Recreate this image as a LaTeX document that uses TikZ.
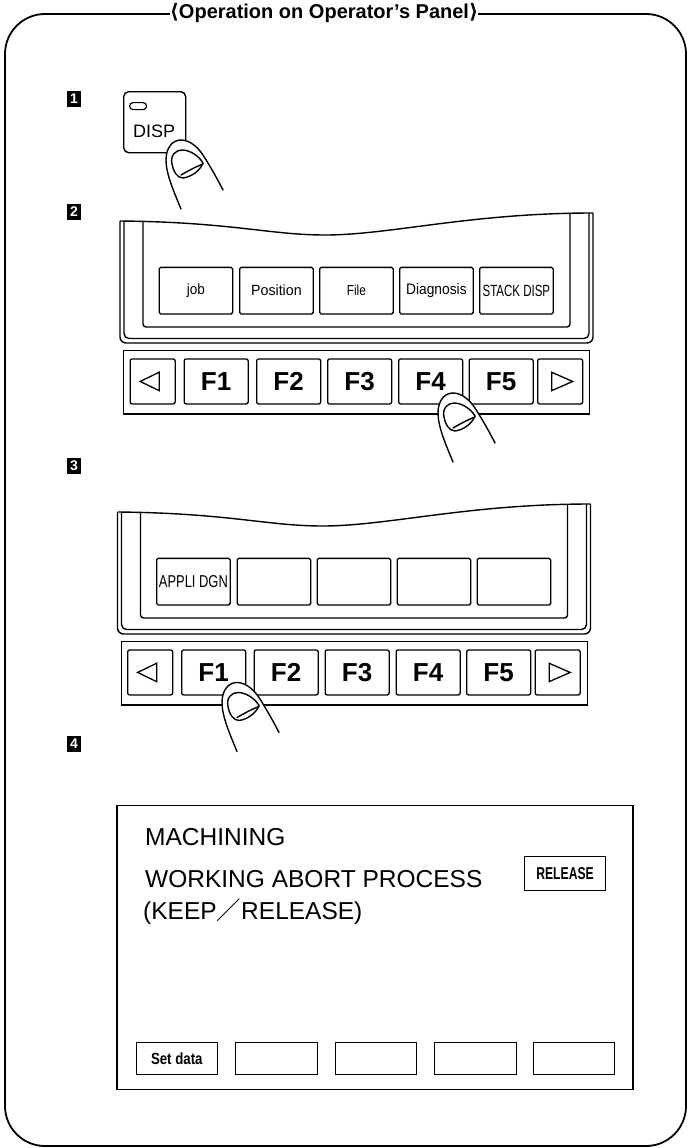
\documentclass[tikz,border=0pt]{standalone}
\usepackage{fontspec}
\usepackage{graphicx}
\setmainfont{Liberation Sans}
\newfontfamily\symfont{DejaVu Sans}
\newfontfamily\cjkfont{Noto Sans CJK SC}
\usetikzlibrary{calc}

% condensed label squeezed into an exact box
\newcommand\squeeze[3]{\resizebox{#1pt}{#2pt}{#3}}

\tikzset{
  frameline/.style={line width=1.8pt},
  hline/.style={line width=1.4pt, line join=round},
  box/.style={draw, line width=1.3pt, inner sep=0pt, anchor=north west},
  softkey/.style={box, rounded corners=1.5pt, minimum width=73.5pt, minimum height=46.6pt},
  fkey/.style={box, rounded corners=2pt, minimum width=64pt, minimum height=45pt,
               font=\fontsize{26}{26}\selectfont\bfseries},
  arrowkey/.style={box, rounded corners=2pt, minimum width=45pt, minimum height=45pt},
  strip/.style={box, minimum width=466pt, minimum height=63.3pt},
  tri/.style={line width=1.3pt, line join=miter},
  stepnum/.style={fill=black, text=white, inner sep=0pt, minimum width=14pt,
                  minimum height=16pt, font=\fontsize{14}{14}\selectfont\bfseries},
  screenkey/.style={box, line width=1.1pt, minimum width=81.5pt, minimum height=32pt},
  screentext/.style={anchor=base west, inner sep=0pt, font=\fontsize{24.5}{24.5}\selectfont},
  fingerline/.style={line width=1.4pt, line cap=round, line join=round},
  finger/.pic={
    \fill[white] (1,69) .. controls (-6,52) and (-14,34) .. (-14,20)
      .. controls (-14,7) and (-7,0) .. (1,0)
      .. controls (9,0) and (17,6) .. (23,15)
      .. controls (30,26) and (38,40) .. (43,50) -- cycle;
    \draw[fingerline] (1,69) .. controls (-6,52) and (-14,34) .. (-14,20)
      .. controls (-14,7) and (-7,0) .. (1,0)
      .. controls (9,0) and (17,6) .. (23,15)
      .. controls (30,26) and (38,40) .. (43,50);
    \draw[fingerline] (-8,24) .. controls (-10,15) and (-4,10) .. (2,10)
      .. controls (10,10) and (19,16) .. (23,23)
      .. controls (20,31) and (11,37) .. (3,38)
      .. controls (-3,38) and (-7,31) .. cycle;
    \draw[fingerline] (1,35) .. controls (8,31) and (15,27) .. (23,24);
  }
}

% display housing with wavy cut-away top, five soft-key boxes and the key strip
\newcommand\fnpanel[6]{%
  \draw[hline] (120,221) .. controls (230,222) and (270,235) .. (325,235)
               .. controls (390,235) and (470,213) .. (593,213);
  \draw[hline, rounded corners=6pt] (120,221) -- (120,343) -- (593,343) -- (593,213);
  \draw[hline, rounded corners=5pt] (124,221.2) -- (124,338.5) -- (589,338.5) -- (589,213);
  \draw[hline, rounded corners=3pt] (143,221.5) -- (143,327) -- (570,327) -- (570,213.2);
  \node[softkey] (#1s1) at (158.5,266.7) {#2};
  \node[softkey] (#1s2) at (239,266.7) {#3};
  \node[softkey] (#1s3) at (319,266.7) {#4};
  \node[softkey] (#1s4) at (399,266.7) {#5};
  \node[softkey] (#1s5) at (479,266.7) {#6};
  \node[strip] (#1strip) at (123,350) {};
  \node[arrowkey] (#1left) at (129.5,358.3) {};
  \node[fkey] (#1f1) at (183.5,358.3) {F1};
  \node[fkey] (#1f2) at (256,358.3) {F2};
  \node[fkey] (#1f3) at (327,358.3) {F3};
  \node[fkey] (#1f4) at (398,358.3) {F4};
  \node[fkey] (#1f5) at (468.5,358.3) {F5};
  \node[arrowkey] (#1right) at (537,358.3) {};
  \draw[tri] ([shift={(6.5,9.2)}]#1left.center) -- ++(0,-18.4) -- ++(-19,9.2) -- cycle;
  \draw[tri] ([shift={(-8.5,9.2)}]#1right.center) -- ++(0,-18.4) -- ++(21,9.2) -- cycle;
}

\begin{document}
\begin{tikzpicture}[x=1pt, y=-1pt]
\useasboundingbox (0,0) rectangle (689,1148);

% outer frame and heading
\draw[frameline, rounded corners=40pt] (5,14) rectangle (686,1146);
\node[fill=white, inner sep=0pt, font=\fontsize{20}{20}\selectfont\bfseries] (title) at (324,13)
  {{\symfont ⟨}Operation on Operator’s Panel{\symfont ⟩}};

% step 1: DISP key
\node[stepnum] (n1) at (74,99) {1};
\node[box, line width=1.4pt, rounded corners=5pt, minimum width=62pt, minimum height=61pt] (disp) at (123,91) {};
\node[box, line width=1.2pt, rounded corners=3.5pt, minimum width=17pt, minimum height=7pt] (led) at (129,102) {};
\node[anchor=base west, inner sep=0pt, font=\fontsize{18}{18}\selectfont] (displbl) at (133,137) {DISP};
\pic at (180,140) {finger};

% step 2: function menu, F4 pressed
\node[stepnum] (n2) at (74,212) {2};
\fnpanel{p}{\squeeze{18}{10.7}{job}}{\squeeze{50.5}{10.7}{Position}}{\squeeze{19}{10.5}{File}}%
  {\squeeze{60.5}{11}{Diagnosis}}{\squeeze{67.5}{11.3}{STACK DISP}}
\pic at (452,393) {finger};

% step 3: diagnosis menu, F1 pressed
\node[stepnum] (n3) at (74,466) {3};
\begin{scope}[shift={(-2.5,291)}]
  \fnpanel{q}{\squeeze{69}{12}{APPLI DGN}}{}{}{}{}
\end{scope}
\pic at (236,682.5) {finger};

% step 4: resulting screen
\node[stepnum] (n4) at (74,744) {4};
\node[box, line width=1.1pt, minimum width=516pt, minimum height=284pt] (scr) at (116.4,805) {};
\node[screentext] (t1) at (145,845) {MACHINING};
\node[screentext] (t2) at (145,887) {WORKING ABORT PROCESS};
\node[screentext] (t3) at (143,919) {(KEEP{\cjkfont ／}RELEASE)};
\node[box, line width=1.1pt, minimum width=81pt, minimum height=34pt] (rel) at (524,856) {\squeeze{57.5}{12}{\bfseries RELEASE}};
\node[screenkey] (k1) at (135.5,1042) {\squeeze{51.5}{11.7}{\bfseries Set data}};
\node[screenkey] (k2) at (235,1042) {};
\node[screenkey] (k3) at (334.5,1042) {};
\node[screenkey] (k4) at (434,1042) {};
\node[screenkey] (k5) at (532.5,1042) {};
\end{tikzpicture}
\end{document}
